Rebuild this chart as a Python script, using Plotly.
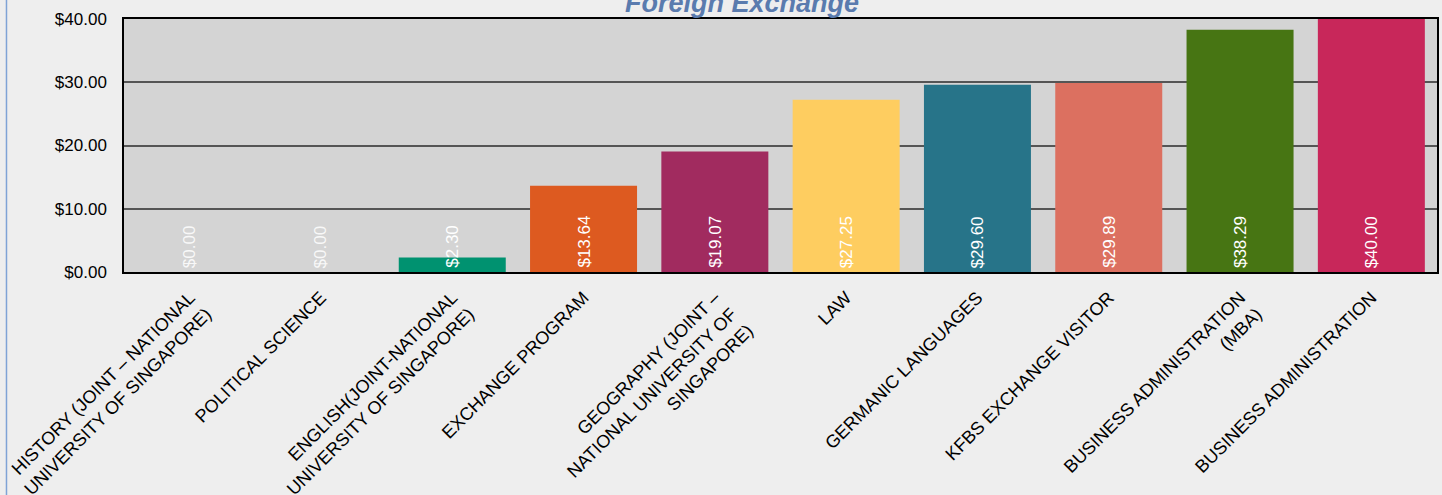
import plotly.graph_objects as go

# data
programs = [
    "HISTORY (JOINT – NATIONAL<br>UNIVERSITY OF SINGAPORE)",
    "POLITICAL SCIENCE",
    "ENGLISH(JOINT-NATIONAL<br>UNIVERSITY OF SINGAPORE)",
    "EXCHANGE PROGRAM",
    "GEOGRAPHY (JOINT –<br>NATIONAL UNIVERSITY OF<br>SINGAPORE)",
    "LAW",
    "GERMANIC LANGUAGES",
    "KFBS EXCHANGE VISITOR",
    "BUSINESS ADMINISTRATION<br>(MBA)",
    "BUSINESS ADMINISTRATION",
]
amounts = [0.00, 0.00, 2.30, 13.64, 19.07, 27.25, 29.60, 29.89, 38.29, 40.00]
bar_colors = ["#3a8fb7", "#8c6bb1", "#009270", "#dd5a20", "#a12b5f",
              "#fecd60", "#277489", "#dc7060", "#477513", "#c8275a"]

FONT = "Liberation Sans, Arial, sans-serif"

fig = go.Figure()

fig.add_trace(go.Bar(
    x=programs,
    y=amounts,
    marker=dict(color=bar_colors, line=dict(width=0)),
    width=0.815,
    hoverinfo="x+y",
))

# value labels, rotated, sitting at the base of each bar
for p, v in zip(programs, amounts):
    fig.add_annotation(
        x=p, y=0, text=f"${v:.2f}", showarrow=False,
        textangle=-90, yanchor="bottom", yshift=2,
        font=dict(family=FONT, size=17, color="white"),
        opacity=0.85 if v == 0 else 1,
    )

# title sits partly above the top edge of the page
fig.add_annotation(
    xref="paper", yref="paper", x=0.471, y=1.062,
    xanchor="center", yanchor="middle", showarrow=False,
    text="<b><i>Foreign Exchange</i></b>",
    font=dict(family=FONT, size=27, color="#5a7bae"),
)

# blue page border on the left
fig.add_shape(type="line", xref="paper", yref="paper",
              x0=-0.0895, x1=-0.0895, y0=-1.0, y1=1.2,
              line=dict(color="#7fa3d6", width=1.5))

fig.update_layout(
    width=1442, height=495,
    margin=dict(l=124, r=5, t=19, b=223),
    paper_bgcolor="#eeeeee",
    plot_bgcolor="#d4d4d4",
    showlegend=False,
    font=dict(family=FONT, size=17, color="black"),
    xaxis=dict(
        tickangle=-45, showgrid=False, ticks="", automargin=False,
        showline=True, linecolor="black", linewidth=2, mirror=True,
        tickfont=dict(size=18, color="black"),
        ticklabelstandoff=6,
    ),
    yaxis=dict(
        range=[0, 40], dtick=10, tickformat="$.2f", automargin=False,
        showgrid=True, gridcolor="#555555", gridwidth=1.5,
        showline=True, linecolor="black", linewidth=1.5, mirror=True,
        zeroline=False, ticks="",
        tickfont=dict(size=17, color="black"),
        ticklabelstandoff=12,
    ),
)

post = ("document.body.style.margin='0';document.body.style.overflow='hidden';"
        "var gd=document.getElementById('{plot_id}');"
        "Plotly.relayout(gd,{width:1442,height:495});")

fig.write_html("out.html", post_script=post,
               config={"responsive": False, "displayModeBar": False})
